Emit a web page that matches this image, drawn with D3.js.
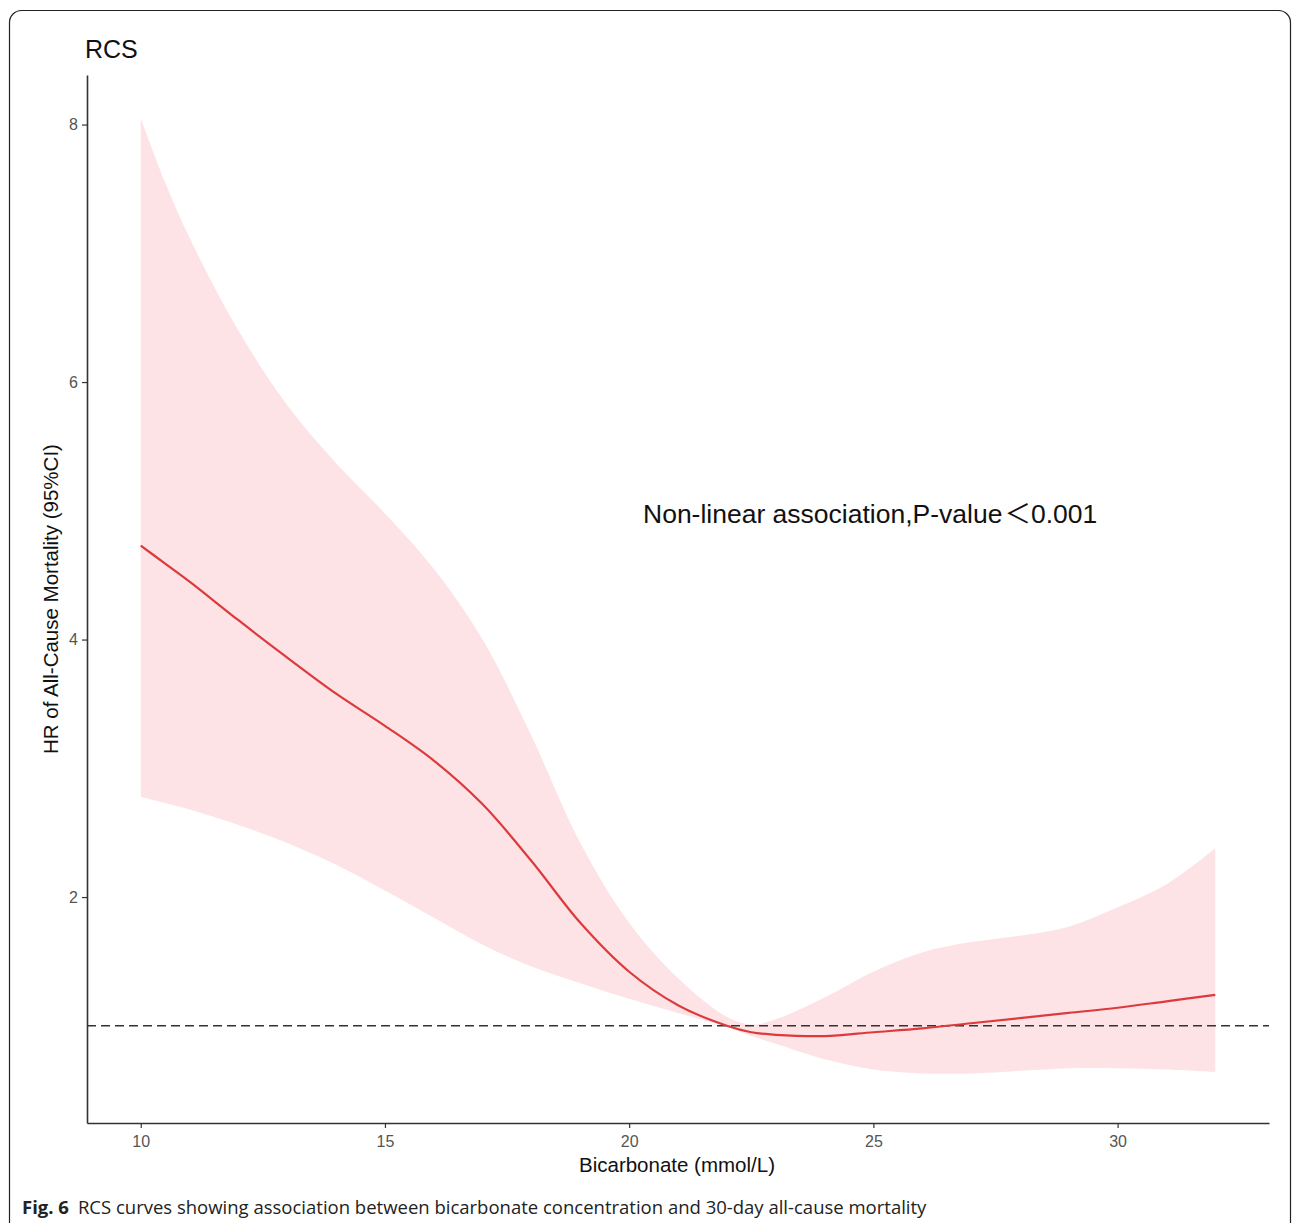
<!DOCTYPE html>
<html>
<head>
<meta charset="utf-8">
<script src="https://cdn.jsdelivr.net/npm/d3@7"></script>
<style>
  html, body { margin: 0; padding: 0; background: #fff; }
  svg { display: block; }
</style>
</head>
<body>
<svg id="chart" width="1293" height="1223"></svg>
<script>
// ---- data ----
const bicarbonate = [10, 10.5, 11, 12, 13, 14, 15, 16, 17, 18, 19, 20, 21, 22, 22.5, 23, 24, 25, 26, 27, 28, 29, 30, 31, 32];
const hr =          [4.73, 4.59, 4.45, 4.15, 3.86, 3.58, 3.33, 3.06, 2.72, 2.28, 1.80, 1.42, 1.16, 1.00, 0.95, 0.93, 0.92, 0.95, 0.98, 1.02, 1.06, 1.10, 1.14, 1.19, 1.24];
const upperCI =     [8.05, 7.55, 7.12, 6.40, 5.82, 5.37, 4.98, 4.55, 4.00, 3.25, 2.42, 1.80, 1.37, 1.07, 1.01, 1.05, 1.22, 1.42, 1.57, 1.65, 1.70, 1.77, 1.92, 2.10, 2.38];
const lowerCI =     [2.78, 2.73, 2.68, 2.56, 2.42, 2.25, 2.05, 1.84, 1.63, 1.46, 1.33, 1.21, 1.10, 0.99, 0.92, 0.86, 0.74, 0.66, 0.63, 0.63, 0.65, 0.67, 0.67, 0.66, 0.64];
const xTicks = [10, 15, 20, 25, 30];
const yTicks = [2, 4, 6, 8];
const refHR = 1;

const titleText = "RCS";
const xLabel = "Bicarbonate (mmol/L)";
const yLabel = "HR of All-Cause Mortality (95%CI)";
const annotationA = "Non-linear association,P-value";
const annotationSym = "\uFF1C";
const annotationB = "0.001";
const captionBold = "Fig. 6";
const captionText = "RCS curves showing association between bicarbonate concentration and 30-day all-cause mortality";

// ---- drawing ----
const svg = d3.select("#chart");
const font = "'Liberation Sans', Arial, sans-serif";

// figure frame
svg.append("rect")
  .attr("x", 9.5).attr("y", 10.5)
  .attr("width", 1281).attr("height", 1300)
  .attr("rx", 12).attr("ry", 12)
  .attr("fill", "none").attr("stroke", "#222").attr("stroke-width", 1.2);

const x = d3.scaleLinear().domain([8.9, 33.1]).range([87, 1269]);
const y = d3.scaleLinear().domain([0.245, 8.385]).range([1123, 75]);

const rows = bicarbonate.map((b, i) => ({ b, hr: hr[i], lo: lowerCI[i], hi: upperCI[i] }));

// CI band
svg.append("path")
  .datum(rows)
  .attr("fill", "#fde3e5")
  .attr("d", d3.area()
    .x(d => x(d.b))
    .y0(d => y(d.lo))
    .y1(d => y(d.hi))
    .curve(d3.curveCatmullRom.alpha(0.5)));

// reference line
svg.append("line")
  .attr("x1", x(8.9)).attr("x2", x(33.1))
  .attr("y1", y(refHR)).attr("y2", y(refHR))
  .attr("stroke", "#333").attr("stroke-width", 1.6)
  .attr("stroke-dasharray", "9,5");

// HR curve
svg.append("path")
  .datum(rows)
  .attr("fill", "none")
  .attr("stroke", "#dc3a3c")
  .attr("stroke-width", 2.2)
  .attr("d", d3.line()
    .x(d => x(d.b))
    .y(d => y(d.hr))
    .curve(d3.curveCatmullRom.alpha(0.5)));

// axes
const xAxis = svg.append("g")
  .attr("transform", "translate(0,1123)")
  .call(d3.axisBottom(x).tickValues(xTicks).tickSize(5).tickPadding(8).tickSizeOuter(0));
const yAxis = svg.append("g")
  .attr("transform", "translate(87,0)")
  .call(d3.axisLeft(y).tickValues(yTicks).tickSize(5).tickPadding(4).tickSizeOuter(0));

[xAxis, yAxis].forEach(g => {
  g.select(".domain").attr("stroke", "#333").attr("stroke-width", 1.6);
  g.selectAll(".tick line").attr("stroke", "#333").attr("stroke-width", 1.2);
  g.selectAll(".tick text")
    .attr("fill", "#555")
    .style("font-family", font)
    .style("font-size", "16px");
});

// title
svg.append("text")
  .attr("x", 85).attr("y", 58)
  .style("font-family", font).style("font-size", "25px")
  .attr("fill", "#111")
  .text(titleText);

// axis titles
svg.append("text")
  .attr("x", 677).attr("y", 1172)
  .attr("text-anchor", "middle")
  .style("font-family", font).style("font-size", "20.5px")
  .attr("fill", "#111")
  .text(xLabel);

svg.append("text")
  .attr("transform", "translate(58,599) rotate(-90)")
  .attr("text-anchor", "middle")
  .style("font-family", font).style("font-size", "20.5px")
  .attr("fill", "#111")
  .text(yLabel);

// annotation
const ann = svg.append("text")
  .attr("x", 643).attr("y", 523)
  .style("font-family", font).style("font-size", "26.5px")
  .attr("fill", "#111");
ann.append("tspan").text(annotationA);
ann.append("tspan").attr("dx", 2).style("font-family", "'Noto Sans CJK SC', sans-serif").text(annotationSym);
ann.append("tspan").text(annotationB);

// caption
const cap = svg.append("text")
  .attr("x", 22).attr("y", 1214)
  .style("font-family", "'Open Sans', 'Noto Sans', sans-serif")
  .style("font-size", "18.5px")
  .attr("fill", "#222");
cap.append("tspan").style("font-weight", "bold").text(captionBold);
cap.append("tspan").attr("dx", 9).text(captionText);
</script>
</body>
</html>
